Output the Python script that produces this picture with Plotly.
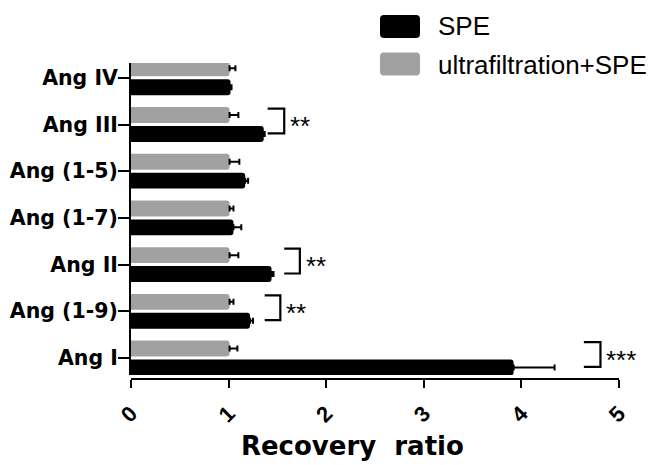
import plotly.graph_objects as go

# ---- data (bottom to top) ----
categories = ["Ang I", "Ang (1-9)", "Ang II", "Ang (1-7)", "Ang (1-5)", "Ang III", "Ang IV"]
spe = [3.92, 1.22, 1.44, 1.05, 1.17, 1.36, 1.02]
spe_err = [0.42, 0.03, 0.02, 0.08, 0.03, 0.01, 0.01]
uf_spe = [1.01, 1.01, 1.01, 1.01, 1.01, 1.01, 1.01]
uf_err = [0.08, 0.04, 0.09, 0.04, 0.10, 0.09, 0.06]
x_ticks = [0, 1, 2, 3, 4, 5]

# significance annotations
sig_cats = ["Ang I", "Ang (1-9)", "Ang II", "Ang III"]
sig_marks = ["***", "**", "**", "**"]
bracket_from = [4.64, 1.37, 1.57, 1.40]
bracket_to = [4.81, 1.53, 1.73, 1.57]

idx = list(range(len(categories)))
BLACK = "#000000"
GRAY = "#a1a1a4"

fig = go.Figure()
fig.add_trace(go.Bar(
    name="SPE", y=idx, x=spe, orientation="h", legendgroup="a",
    marker=dict(color=BLACK, line=dict(width=0), cornerradius=3),
    error_x=dict(type="data", array=spe_err, arrayminus=[0] * len(spe), symmetric=False,
                 color=BLACK, thickness=2, width=3),
))
fig.add_trace(go.Bar(
    name="ultrafiltration+SPE", y=idx, x=uf_spe, orientation="h", legendgroup="b",
    marker=dict(color=GRAY, line=dict(width=0), cornerradius=3),
    error_x=dict(type="data", array=uf_err, arrayminus=[0] * len(uf_spe), symmetric=False,
                 color=BLACK, thickness=2, width=3),
))

# brackets and stars
for cat, mark, x0, x1 in zip(sig_cats, sig_marks, bracket_from, bracket_to):
    i = categories.index(cat)
    yt, yb = i + 0.34, i - 0.19
    fig.add_shape(type="path", xref="x", yref="y",
                  path=f"M {x0},{yt} L {x1},{yt} L {x1},{yb} L {x0},{yb}",
                  line=dict(color=BLACK, width=2.2))
    fig.add_annotation(x=x1, y=i + 0.05, xref="x", yref="y", text=mark, showarrow=False,
                       xanchor="left", yanchor="middle", xshift=4, yshift=-4,
                       font=dict(family="Liberation Sans", size=26, color=BLACK))

# legend swatches (large rounded boxes behind legend symbols)
def rounded(w, h, r):
    x0, x1, y0, y1 = -w / 2, w / 2, -h / 2, h / 2
    return (f"M {x0 + r},{y0} L {x1 - r},{y0} Q {x1},{y0} {x1},{y0 + r} L {x1},{y1 - r} "
            f"Q {x1},{y1} {x1 - r},{y1} L {x0 + r},{y1} Q {x0},{y1} {x0},{y1 - r} "
            f"L {x0},{y0 + r} Q {x0},{y0} {x0 + r},{y0} Z")

for col, ypap in [(BLACK, 1.1155), (GRAY, 0.9968)]:
    fig.add_shape(type="path", xref="paper", yref="paper", xsizemode="pixel", ysizemode="pixel",
                  xanchor=0.5512, yanchor=ypap, path=rounded(40, 23, 4),
                  fillcolor=col, line=dict(width=0), layer="below")

fig.update_layout(
    width=649, height=465,
    margin=dict(l=131, r=30, t=63, b=86, autoexpand=False),
    paper_bgcolor="white", plot_bgcolor="white",
    barmode="group", bargap=0.19, bargroupgap=0.16,
    showlegend=True,
    legend=dict(x=0.5266, y=1.196, xanchor="left", yanchor="top", itemwidth=40,
                font=dict(family="Liberation Sans", size=26, color=BLACK),
                bgcolor="rgba(0,0,0,0)", traceorder="grouped", tracegroupgap=3),
    xaxis=dict(range=[0, 5], tickvals=x_ticks, ticktext=[str(t) for t in x_ticks],
               ticks="outside", ticklen=8, tickwidth=2, tickcolor=BLACK,
               showline=True, linewidth=2, linecolor=BLACK, showgrid=False, zeroline=False,
               anchor="free", position=0, tickangle=-45, ticklabelstandoff=4,
               tickfont=dict(family="Liberation Sans", size=22, color=BLACK, weight="bold"),
               title=dict(text="Recovery\u00a0 ratio" + "\u00a0" * 5 + "\u200b", standoff=9,
                          font=dict(family="DejaVu Sans", size=26, color=BLACK, weight="bold"))),
    yaxis=dict(domain=[4 / 316, 1], range=[-0.364, 6.317], tickvals=idx, ticktext=categories,
               ticks="outside", ticklen=11, tickwidth=2, tickcolor=BLACK,
               showline=True, linewidth=2, linecolor=BLACK, showgrid=False, zeroline=False,
               ticklabelstandoff=-4,
               tickfont=dict(family="DejaVu Sans", size=20.5, color=BLACK, weight="bold")),
)

fig.write_html("out.html")
